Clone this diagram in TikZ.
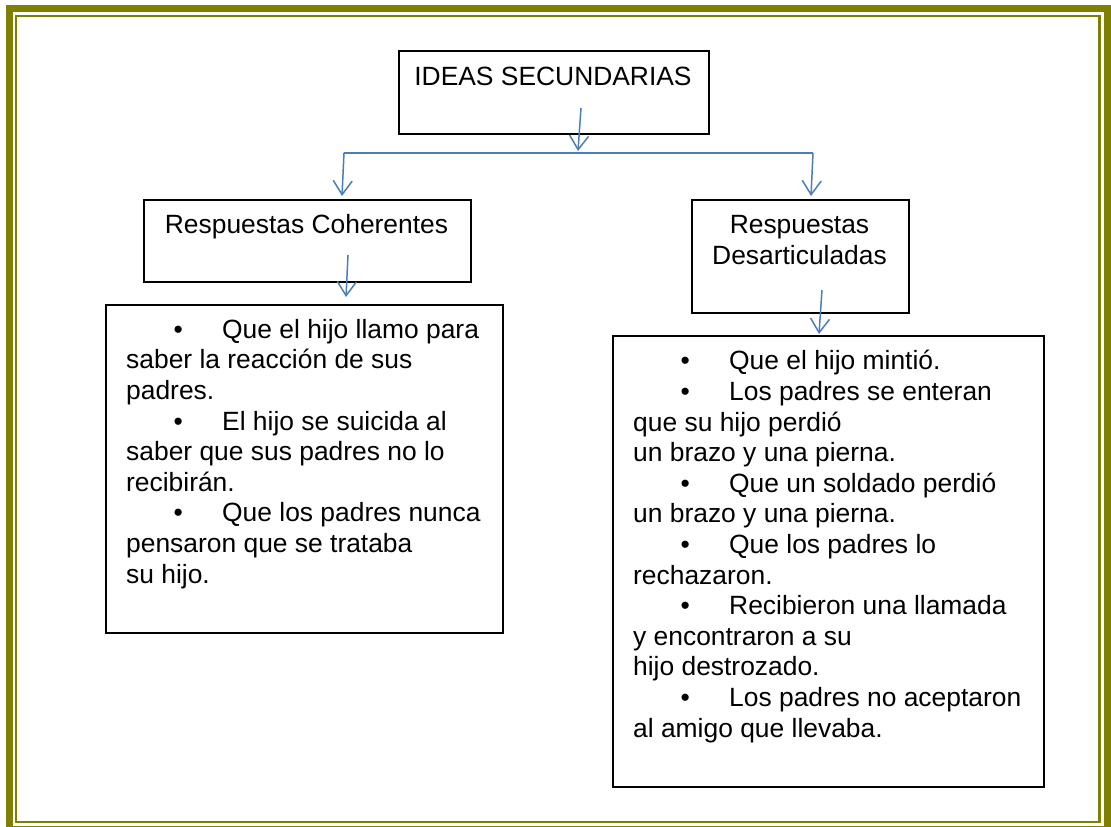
\documentclass[tikz,border=0pt]{standalone}
\usepackage{fontspec}
\setmainfont{Liberation Sans}
\usetikzlibrary{arrows.meta}
\definecolor{marco}{HTML}{808000}
\definecolor{flecha}{HTML}{4A7EBB}
\newcommand{\vineta}{\makebox[96pt][l]{\hspace{47.5pt}\textbullet}}
\begin{document}
\begin{tikzpicture}[x=1pt,y=-1pt,
    caja/.style={draw,line width=1.8pt,anchor=north west,inner sep=0pt},
    texto/.style={font=\fontsize{26.4}{30.6}\selectfont,inner sep=0pt},
    flechita/.style={flecha,line width=1.5pt,-{Straight Barb[length=14pt,width=19pt]}}]
        \useasboundingbox (0,0) rectangle (1111,827);
        % marco doble
        \draw[marco,line width=7pt] (9.5,8.5) rectangle (1107,829);
        \draw[marco,line width=2.5pt] (16,16) rectangle (1099.5,822);

        \node[caja,minimum width=310pt,minimum height=83pt] (ideas) at (398,50) {};
        \node[texto,anchor=base] (ideastxt) at (553,85) {IDEAS SECUNDARIAS};

        \node[caja,minimum width=327pt,minimum height=82pt] (coh) at (143,199) {};
        \node[texto,anchor=base] (cohtxt) at (306.5,233) {Respuestas Coherentes};

        \node[caja,minimum width=217pt,minimum height=113pt] (des) at (691,199) {};
        % base = ultima linea
        \node[texto,anchor=base,align=center] (destxt) at (799.5,264) {Respuestas\\Desarticuladas};

        \node[caja,minimum width=397pt,minimum height=328pt] (listacoh) at (105,304) {};
        \node[texto,anchor=base west,align=left] (listacohtxt) at (126,583) {%
          \vineta Que el hijo llamo para\\
          saber la reacción de sus\\
          padres.\\
          \vineta El hijo se suicida al\\
          saber que sus padres no lo\\
          recibirán.\\
          \vineta Que los padres nunca\\
          pensaron que se trataba\\
          su hijo.};

        \node[caja,minimum width=431pt,minimum height=451pt] (listades) at (612,335) {};
        \node[texto,anchor=base west,align=left] (listadestxt) at (633,737) {%
          \vineta Que el hijo mintió.\\
          \vineta Los padres se enteran\\
          que su hijo perdió\\
          un brazo y una pierna.\\
          \vineta Que un soldado perdió\\
          un brazo y una pierna.\\
          \vineta Que los padres lo\\
          rechazaron.\\
          \vineta Recibieron una llamada\\
          y encontraron a su\\
          hijo destrozado.\\
          \vineta Los padres no aceptaron\\
          al amigo que llevaba.};

        % conectores
        \coordinate (ideasout) at (581,108);
        \coordinate (barra) at (578,151);
        \coordinate (barraizq) at (344,153);
        \coordinate (barrader) at (813,153);
        \coordinate (cohin) at (342,196);
        \coordinate (desin) at (811,196);
        \coordinate (cohout) at (348,255);
        \coordinate (listacohin) at (346,297);
        \coordinate (desout) at (822,290);
        \coordinate (listadesin) at (819,334);

        \draw[flechita] (ideasout) -- (barra);
        \draw[flecha,line width=1.5pt] (barraizq) -- (barrader);
        \draw[flechita] (barraizq) -- (cohin);
        \draw[flechita] (barrader) -- (desin);
        \draw[flechita] (cohout) -- (listacohin);
        \draw[flechita] (desout) -- (listadesin);
\end{tikzpicture}
\end{document}
